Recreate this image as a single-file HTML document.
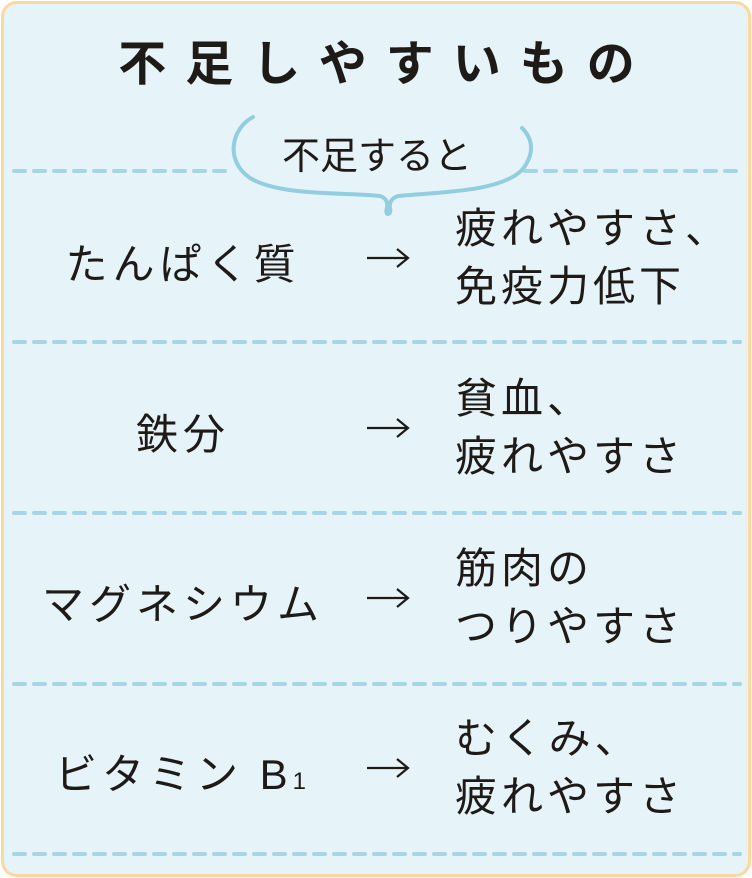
<!DOCTYPE html><html><head><meta charset="utf-8"><style>
body{margin:0;width:752px;height:878px;background:#fff;overflow:hidden}
.box{position:absolute;left:1px;top:1px;width:744px;height:870px;border:3px solid #fcd8a0;border-radius:16px;background:#e6f3f9}
.t{position:absolute;font-family:"Liberation Sans","Noto Sans CJK JP",sans-serif;color:#1e1a17;white-space:nowrap}
.title{left:10px;width:752px;text-align:center;top:24px;font-size:48px;font-weight:bold;letter-spacing:19px}
.l{width:366px;left:0;text-align:center;font-size:42px;letter-spacing:5px}
.r{left:455px;font-size:42px;line-height:58px;letter-spacing:4px}
</style></head><body>
<div class="box"></div>
<svg width="752" height="878" style="position:absolute;left:0;top:0">
<g stroke="#a6d5e6" stroke-width="4" stroke-dasharray="11 9" stroke-linecap="round" fill="none">
<line x1="14" y1="171" x2="232" y2="171"/><line x1="525" y1="171" x2="740" y2="171"/>
<line x1="14" y1="342" x2="740" y2="342"/>
<line x1="14" y1="513" x2="740" y2="513"/>
<line x1="14" y1="684" x2="740" y2="684"/>
<line x1="14" y1="854" x2="740" y2="854"/>
</g>
<path d="M253,117 C232,128 224,160 250,178 C280,196 340,192 380,196 C386,198 388,202 387,208 C384,216 392,216 390,208 C389,202 392,198 398,196 C440,192 500,192 522,170 C534,155 534,140 522,128" stroke="#92cde0" stroke-width="4" fill="none" stroke-linecap="round"/>
<g stroke="#1e1a17" stroke-width="2.2" fill="none">
<path d="M367,258 H407 M397,249 L408,258 L397,267"/>
<path d="M367,428 H407 M397,419 L408,428 L397,437"/>
<path d="M367,598 H407 M397,589 L408,598 L397,607"/>
<path d="M367,768 H407 M397,759 L408,768 L397,777"/>
</g>
</svg>
<div class="t title">不足しやすいもの</div>
<div class="t" style="left:282px;top:125px;font-size:38px">不足すると</div>
<div class="t l" style="top:231px">たんぱく質</div>
<div class="t r" style="top:200px">疲れやすさ、<br>免疫力低下</div>
<div class="t l" style="top:401px">鉄分</div>
<div class="t r" style="top:370px">貧血、<br>疲れやすさ</div>
<div class="t l" style="top:571px">マグネシウム</div>
<div class="t r" style="top:540px">筋肉の<br>つりやすさ</div>
<div class="t l" style="top:741px">ビタミン B<span style="font-size:24px">1</span></div>
<div class="t r" style="top:710px">むくみ、<br>疲れやすさ</div>
</body></html>
